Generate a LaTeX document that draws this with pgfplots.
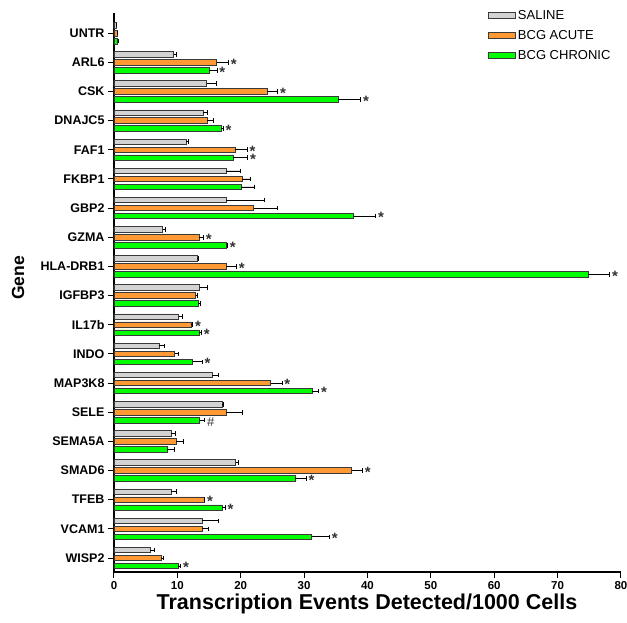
\documentclass[border=0pt]{standalone}
\usepackage{fontspec}
\setmainfont{Liberation Sans}
\usepackage{pgfplots}
\usepackage{pgfplotstable}
\pgfplotsset{compat=1.18}
\definecolor{salgray}{HTML}{D3D3D3}
\definecolor{acuteorange}{HTML}{FF9933}
\definecolor{chrgreen}{HTML}{00FF00}
\definecolor{edge}{HTML}{3A3A3A}

% y: 18 = UNTR ... 0 = WISP2
\pgfplotstableread{
y val err
18 0.3 0.1
17 9.4 0.5
16 14.6 1.6
15 14.05 0.7
14 11.4 0.4
13 17.7 2.2
12 17.7 6.1
11 7.7 0.4
10 13.1 0.15
9 13.5 1.2
8 10.2 0.6
7 7.1 0.8
6 15.5 0.9
5 17.1 0.2
4 9.0 0.7
3 19.2 0.4
2 9.05 0.8
1 13.9 2.5
0 5.7 0.6
}\saline
\pgfplotstableread{
y val err
18 0.5 0.1
17 16.2 1.85
16 24.2 1.6
15 14.7 1.0
14 19.1 1.9
13 20.2 1.4
12 22.05 3.8
11 13.4 0.7
10 17.7 1.6
9 12.9 0.3
8 12.2 0.2
7 9.6 0.5
6 24.7 1.8
5 17.7 2.5
4 9.8 1.1
3 37.5 1.7
2 14.2 0.1
1 13.9 1.05
0 7.4 0.4
}\acute
\pgfplotstableread{
y val err
18 0.6 0.1
17 15.05 1.2
16 35.4 3.5
15 16.9 0.3
14 18.8 2.3
13 20.1 2.1
12 37.8 3.5
11 17.8 0.1
10 74.8 3.4
9 13.3 0.4
8 13.4 0.4
7 12.4 1.5
6 31.3 1.0
5 13.5 0.7
4 8.4 1.2
3 28.6 1.7
2 17.05 0.5
1 31.2 2.8
0 10.1 0.4
}\chronic
% significance markers: x = end of error bar, y = bar centre
\pgfplotstableread{
x y
18.05 17
25.8 16
21.0 14
14.1 11
19.3 10
12.4 8
26.5 6
39.2 3
14.3 2
}\acutestars
\pgfplotstableread{
x y
16.25 16.726
38.9 15.726
17.2 14.726
21.1 13.726
41.3 11.726
17.9 10.726
78.2 9.726
13.8 7.726
13.9 6.726
32.3 5.726
30.3 2.726
17.55 1.726
34.0 0.726
10.5 -0.274
}\chronicstars
\pgfplotstableread{
x y
14.2 4.726
}\chronichash

\pgfplotsset{
  mybar/.style={xbar, bar width=5.5pt, bar shift=0pt, draw=edge, line width=0.7pt,
    error bars/.cd, x dir=plus, x explicit,
    error bar style={line width=0.8pt, black},
    error mark options={line width=0.8pt, black, mark size=2.3pt, rotate=90},
    /pgfplots/.cd,
    legend image code/.code={\draw[##1,/tikz/.cd,line width=0.8pt] (0pt,-2.8pt) rectangle (27pt,2.8pt);}},
  star/.style={draw=none, mark=none, nodes near coords={*},
    nodes near coords style={anchor=base west, xshift=2pt, yshift=-6.8pt, inner sep=0.3pt,
      text height=3.5pt, text depth=0pt,
      font=\fontsize{15}{15}\selectfont\bfseries, text=black!80}},
}

\begin{document}
\begin{tikzpicture}
\useasboundingbox (-114pt,-50pt) rectangle (513pt,572pt);
\begin{axis}[
  scale only axis,
  width=507pt, height=559pt,
  xmin=0, xmax=80,
  ymin=-0.48, ymax=18.69,
  axis lines=left,
  axis line style={-, line width=1.1pt, black},
  xtick={0,10,...,80},
  ytick={0,...,18},
  yticklabels={WISP2,VCAM1,TFEB,SMAD6,SEMA5A,SELE,MAP3K8,INDO,IL17b,IGFBP3,HLA-DRB1,GZMA,GBP2,FKBP1,FAF1,DNAJC5,CSK,ARL6,UNTR},
  tick align=outside,
  major tick length=6pt,
  tick style={line width=1pt, black},
  /pgf/number format/assume math mode=true,
  xticklabel style={font=\fontsize{11.5}{11.5}\selectfont\bfseries},
  yticklabel style={font=\fontsize{12.5}{12.5}\selectfont\bfseries},
  xlabel={Transcription Events Detected/1000 Cells},
  ylabel={Gene},
  xlabel style={font=\fontsize{21.5}{21.5}\selectfont\bfseries, at={(axis description cs:0.499,-0.057)}, anchor=center},
  ylabel style={font=\fontsize{17.5}{17.5}\selectfont\bfseries, at={(axis description cs:-0.189,0.526)}, anchor=center},
  legend style={at={(axis description cs:0.738,1.009)}, anchor=north west, draw=none, fill=none,
    font=\fontsize{13}{13}\selectfont, row sep=5.5pt, inner sep=0pt, outer sep=0pt},
  legend cell align=left,
  clip=false,
]
\addplot[mybar, fill=salgray] table[x=val, y expr=\thisrow{y}+0.274, x error=err] {\saline};
\addlegendentry{SALINE}
\addplot[mybar, fill=acuteorange] table[x=val, y=y, x error=err] {\acute};
\addlegendentry{BCG ACUTE}
\addplot[mybar, fill=chrgreen] table[x=val, y expr=\thisrow{y}-0.274, x error=err] {\chronic};
\addlegendentry{BCG CHRONIC}
\addplot[star] table[x=x, y=y] {\acutestars};
\addplot[star] table[x=x, y=y] {\chronicstars};
\addplot[draw=none, mark=none, nodes near coords={\#},
  nodes near coords style={anchor=west, xshift=2pt, yshift=-2pt, inner sep=1pt,
    font=\fontsize{13}{13}\selectfont, text=black!80}] table[x=x, y=y] {\chronichash};
\end{axis}
\end{tikzpicture}
\end{document}
